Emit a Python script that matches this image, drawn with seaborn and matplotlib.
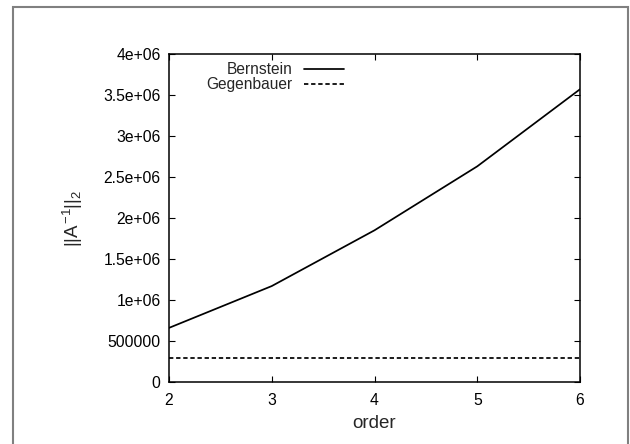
import matplotlib
matplotlib.use("Agg")
import matplotlib.pyplot as plt
import seaborn as sns
import pandas as pd
from matplotlib.patches import Rectangle
from matplotlib.lines import Line2D

orders = [2, 3, 4, 5, 6]
bernstein = [660000, 1170000, 1850000, 2630000, 3570000]
gegenbauer = [295000, 295000, 295000, 295000, 295000]
series_names = ["Bernstein", "Gegenbauer"]
y_ticks = [0, 500000, 1000000, 1500000, 2000000, 2500000, 3000000, 3500000, 4000000]
y_tick_labels = ["0", "500000", "1e+06", "1.5e+06", "2e+06", "2.5e+06", "3e+06", "3.5e+06", "4e+06"]

df = pd.DataFrame({
    "order": orders * 2,
    "value": bernstein + gegenbauer,
    "method": [series_names[0]] * len(orders) + [series_names[1]] * len(orders),
})

sns.set_theme(style="white")
plt.rcParams["font.family"] = ["Liberation Sans", "DejaVu Sans"]
plt.rcParams["mathtext.fontset"] = "custom"
plt.rcParams["mathtext.rm"] = "Liberation Sans"
plt.rcParams["mathtext.it"] = "Liberation Sans"
plt.rcParams["mathtext.bf"] = "Liberation Sans:bold"

fig = plt.figure(figsize=(6.3, 4.44), dpi=100)
ax = fig.add_axes([169 / 630, 1 - 382 / 444, (580 - 169) / 630, (382 - 54) / 444])

sns.lineplot(data=df, x="order", y="value", hue="method", style="method",
             palette=["black", "black"], dashes={"Bernstein": "", "Gegenbauer": (2.5, 1.6)},
             linewidth=1.25, ax=ax, legend=False)

ax.set_xlim(2, 6)
ax.set_ylim(0, 4000000)
ax.set_xticks(orders)
ax.set_xticklabels([str(o) for o in orders])
ax.set_yticks(y_ticks)
ax.set_yticklabels(y_tick_labels)
ax.tick_params(axis="both", which="both", direction="in", length=4.5, width=0.8,
               top=True, right=True, left=True, bottom=True, labelsize=11.3, colors="black")
ax.tick_params(axis="x", pad=8)
ax.tick_params(axis="y", pad=6)
for s in ax.spines.values():
    s.set_visible(True)
    s.set_color("black")
    s.set_linewidth(1.1)

ax.set_xlabel("order", fontsize=13.5, labelpad=5)
ax.set_ylabel(r"$||A^{-1}||_2$", fontsize=13.5, labelpad=13)

handles = [Line2D([], [], color="black", lw=1.25),
           Line2D([], [], color="black", lw=1.25, dashes=(2.5, 1.6))]
leg = ax.legend(handles, series_names, loc="upper right",
                bbox_to_anchor=(344 / 630, 1 - 62 / 444), bbox_transform=fig.transFigure,
                frameon=False, markerfirst=False, fontsize=11.2, handlelength=2.6,
                handletextpad=0.7, labelspacing=0.02, borderaxespad=0, borderpad=0)
leg._legend_box.align = "right"

# outer page frame
fig.patches.append(Rectangle((13 / 630, -0.1), (628 - 13) / 630, 1.1 - 7 / 444,
                             transform=fig.transFigure, fill=False,
                             edgecolor="#808080", linewidth=1.5, zorder=0))

fig.savefig("out.png", dpi=100)
